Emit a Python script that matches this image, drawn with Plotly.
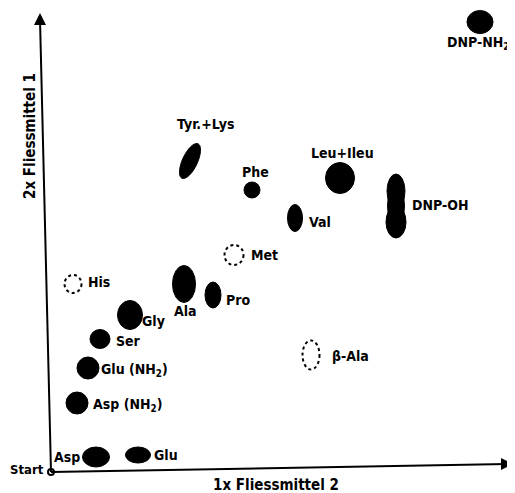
import numpy as np
import plotly.graph_objects as go

# ---- data: spot centres (distance from start, x = Fliessmittel 2, y = 2x Fliessmittel 1)
spot_names = ["Asp", "Glu", "Asp (NH<sub>2</sub>)", "Glu (NH<sub>2</sub>)", "Ser", "Gly",
              "Ala", "Pro", "His", "Met", "β-Ala", "Val", "Phe", "Tyr.+Lys",
              "Leu+Ileu", "DNP-OH", "DNP-NH<sub>2</sub>"]
spot_x = [45, 87, 26, 37, 49, 79, 133, 162, 22, 183, 260, 244, 201, 139, 289, 345, 429]
spot_y = [15, 17, 69, 104, 133, 157, 188, 177, 188, 217, 117, 254, 282, 311, 294, 266, 450]
spot_w = [27, 25, 22, 22, 20, 25, 23, 16, 17, 19, 17, 15, 16, 15, 29, 20, 26]
spot_h = [20, 16, 22, 22, 19, 29, 37, 26, 18, 20, 29, 27, 16, 38, 31, 64, 23]
spot_faint = [False, False, False, False, False, False, False, False, True, True, True,
              False, False, False, False, False, False]

# label offsets relative to spot centre
label_dx = [-29, 28, 50, 46, 28, 23, 1, 25, 26, 30, 39, 25, 3, 15, 2, 44, -2]
label_dy = [0, 0, -2, -2, -2, -6, -27, -5, 2, 0, -1, -4, 18, 37, 25, 1, -21]

# axis lines
x_axis_end = (462, 8)
y_axis_end = (-11, 459)

fig = go.Figure()

FONT = "DejaVu Sans Condensed, Liberation Sans Narrow, Arial Narrow, sans-serif"

shapes = []
for i, n in enumerate(spot_names):
    cx, cy, w, h = spot_x[i], spot_y[i], spot_w[i], spot_h[i]
    if spot_faint[i]:
        shapes.append(dict(type="circle", xref="x", yref="y",
                           x0=cx - w / 2, x1=cx + w / 2, y0=cy - h / 2, y1=cy + h / 2,
                           line=dict(color="black", width=2, dash="dot"),
                           fillcolor="rgba(0,0,0,0)"))
    elif n == "Tyr.+Lys":
        t = np.linspace(0, 2 * np.pi, 60)
        ang = np.deg2rad(25)
        ex = (w / 2) * np.cos(t)
        ey = (h / 2) * np.sin(t)
        px = cx + ex * np.cos(ang) + ey * np.sin(ang)
        py = cy - ex * np.sin(ang) + ey * np.cos(ang)
        path = "M " + " L ".join(f"{a:.2f},{b:.2f}" for a, b in zip(px, py)) + " Z"
        shapes.append(dict(type="path", xref="x", yref="y", path=path,
                           fillcolor="black", line=dict(color="black", width=1)))
    elif n == "DNP-OH":
        # peanut: overlapping lobes (narrower top, wider bottom)
        shapes.append(dict(type="circle", xref="x", yref="y",
                           x0=cx - 9, x1=cx + 9, y0=cy - 2, y1=cy + 32,
                           fillcolor="black", line=dict(color="black", width=1)))
        shapes.append(dict(type="circle", xref="x", yref="y",
                           x0=cx - 10, x1=cx + 10, y0=cy - 32, y1=cy,
                           fillcolor="black", line=dict(color="black", width=1)))
        shapes.append(dict(type="circle", xref="x", yref="y",
                           x0=cx - 8.5, x1=cx + 8.5, y0=cy - 20, y1=cy + 20,
                           fillcolor="black", line=dict(color="black", width=1)))
    else:
        shapes.append(dict(type="circle", xref="x", yref="y",
                           x0=cx - w / 2, x1=cx + w / 2, y0=cy - h / 2, y1=cy + h / 2,
                           fillcolor="black", line=dict(color="black", width=1)))

# axis lines
shapes.append(dict(type="line", xref="x", yref="y", x0=0, y0=0,
                   x1=x_axis_end[0] - 6, y1=x_axis_end[1], line=dict(color="black", width=2)))
shapes.append(dict(type="line", xref="x", yref="y", x0=0, y0=0,
                   x1=y_axis_end[0], y1=y_axis_end[1] - 6, line=dict(color="black", width=2)))

annotations = []
for i, n in enumerate(spot_names):
    annotations.append(dict(x=spot_x[i] + label_dx[i], y=spot_y[i] + label_dy[i],
                            xref="x", yref="y", text=f"<b>{n}</b>", showarrow=False,
                            font=dict(family=FONT, size=14, color="black")))
# arrows
annotations.append(dict(x=x_axis_end[0], y=x_axis_end[1], ax=x_axis_end[0] - 12, ay=x_axis_end[1],
                        xref="x", yref="y", axref="x", ayref="y", text="", showarrow=True,
                        arrowhead=2, arrowsize=1.2, arrowwidth=2, arrowcolor="black"))
annotations.append(dict(x=y_axis_end[0], y=y_axis_end[1], ax=y_axis_end[0], ay=y_axis_end[1] - 12,
                        xref="x", yref="y", axref="x", ayref="y", text="", showarrow=True,
                        arrowhead=2, arrowsize=1.2, arrowwidth=2, arrowcolor="black"))
annotations.append(dict(x=-24, y=3, xref="x", yref="y", text="<b>Start</b>", showarrow=False,
                        borderpad=0, font=dict(family=FONT, size=13, color="black")))
annotations.append(dict(x=225, y=-13, xref="x", yref="y", text="<b>1x Fliessmittel 2</b>",
                        showarrow=False, font=dict(family=FONT, size=15, color="black")))
annotations.append(dict(x=-21, y=336, xref="x", yref="y", text="<b>2x Fliessmittel 1</b>",
                        showarrow=False, textangle=-90,
                        font=dict(family=FONT, size=15, color="black")))

fig.add_trace(go.Scatter(x=[0], y=[0], mode="markers", hoverinfo="skip",
                         marker=dict(size=6, color="white", line=dict(color="black", width=2))))

# the page body adds an 8px offset, so the ranges are shifted to compensate
fig.update_layout(
    width=515, height=493, margin=dict(l=0, r=0, t=0, b=0),
    paper_bgcolor="white", plot_bgcolor="white", showlegend=False,
    xaxis=dict(range=[-43, 472], visible=False, fixedrange=True),
    yaxis=dict(range=[-29, 464], visible=False, fixedrange=True),
    shapes=shapes, annotations=annotations,
)

fig.write_html("out.html")
